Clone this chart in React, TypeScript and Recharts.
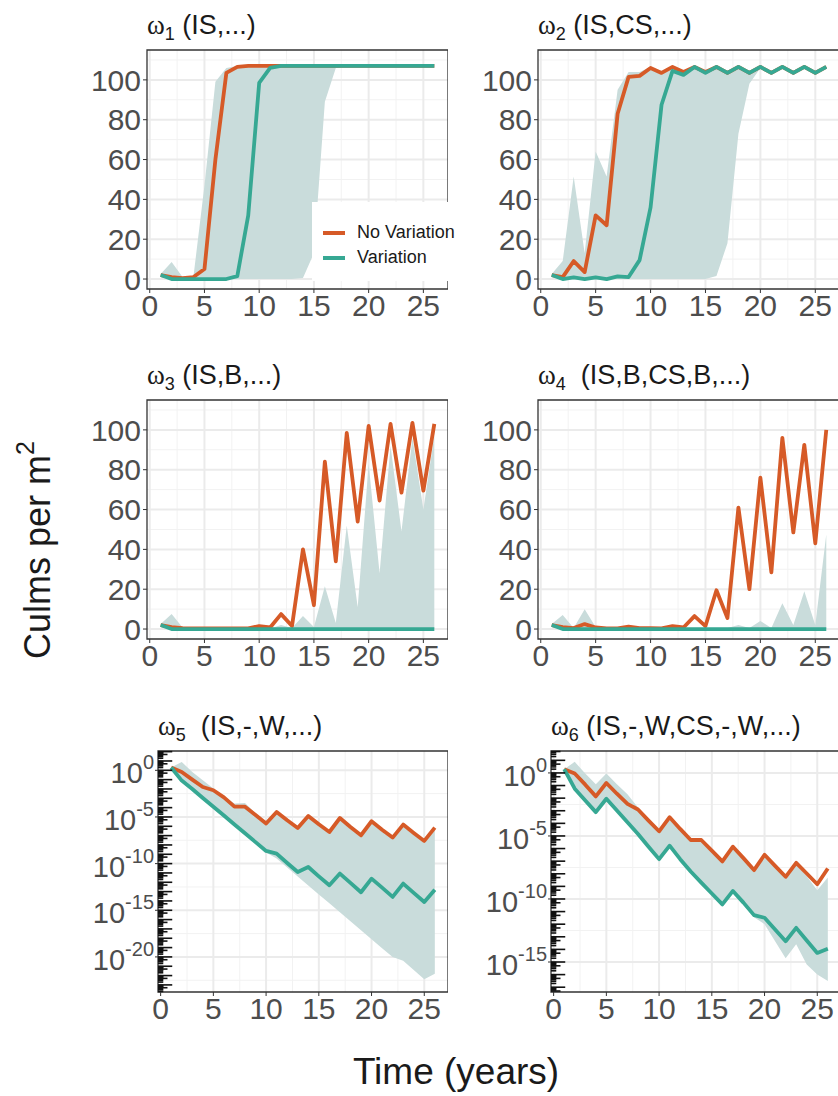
import React from "react";
import {
  Area,
  CartesianGrid,
  ComposedChart,
  Legend,
  Line,
  ReferenceArea,
  ReferenceLine,
  XAxis,
  YAxis
} from "recharts";

const years = [1, 2, 3, 4, 5, 6, 7, 8, 9, 10, 11, 12, 13, 14, 15, 16, 17, 18, 19, 20, 21, 22, 23, 24, 25, 26];
const xTicks = [0, 5, 10, 15, 20, 25];
const yTicksLinear = [0, 20, 40, 60, 80, 100];

// omega 1 (IS,...)
const noVar1 = [2, 1, 0.5, 1, 5, 60, 103.5, 106.5, 107, 107, 107, 107, 107, 107, 107, 107, 107, 107, 107, 107, 107, 107, 107, 107, 107, 107];
const var1 = [2, 0, 0, 0, 0, 0, 0, 1.5, 32, 98.5, 106, 107, 107, 107, 107, 107, 107, 107, 107, 107, 107, 107, 107, 107, 107, 107];
const low1 = [1.5, 0, 0, 0, 0, 0, 0, 0, 0, 0, 0, 0, 0, 0.5, 13, 89, 106, 107, 107, 107, 107, 107, 107, 107, 107, 107];
const high1 = [2.5, 8.5, 1, 1.5, 47, 99, 106, 107, 107, 107, 107, 107, 107, 107, 107, 107, 107, 107, 107, 107, 107, 107, 107, 107, 107, 107];

// omega 2 (IS,CS,...)
const noVar2 = [2, 1, 9, 3.5, 32, 27, 83, 101.5, 102, 106, 103.5, 106.5, 104, 106.5, 104, 106.5, 103.5, 106.5, 103.5, 106.5, 103.5, 106.5, 103.5, 106.5, 103.5, 106.5];
const var2 = [2, 0, 0.8, 0, 0.8, 0, 1.3, 1, 9.5, 36, 87.5, 104.5, 102.5, 106.5, 103.5, 106.5, 103.5, 106.5, 103.5, 106.5, 103.5, 106.5, 103.5, 106.5, 103.5, 106.5];
const low2 = [1.5, 0, 0, 0, 0, 0, 0, 0, 0, 0, 0, 0, 0, 0, 0, 1.5, 18, 73, 98, 106, 103, 106, 103, 106, 103, 106];
const high2 = [2.5, 9, 51.5, 13, 64, 51.5, 95, 104, 104, 106.5, 104.5, 106.5, 104.5, 107, 104.5, 107, 104.5, 107, 104.5, 107, 104, 107, 104, 107, 104, 107];

// omega 3 (IS,B,...)
const noVar3 = [2, 1, 0.5, 0.3, 0.3, 0.3, 0.3, 0.3, 0.3, 1.5, 0.8, 7.5, 1.5, 40, 12, 84, 34, 98.5, 54, 102, 64.5, 103, 68.5, 103.5, 69.5, 103];
const var3 = [2, 0, 0, 0, 0, 0, 0, 0, 0, 0, 0, 0, 0, 0, 0, 0, 0, 0, 0, 0, 0, 0, 0, 0, 0, 0];
const low3 = [1.5, 0, 0, 0, 0, 0, 0, 0, 0, 0, 0, 0, 0, 0, 0, 0, 0, 0, 0, 0, 0, 0, 0, 0, 0, 0];
const high3 = [2.5, 7.5, 0.8, 0.3, 0.3, 0.3, 0.3, 0.3, 0.3, 0.3, 0.3, 2, 0.5, 6.5, 1, 21.5, 3, 52, 11, 83, 28, 92, 49, 96, 60, 97];

// omega 4 (IS,B,CS,B,...)
const noVar4 = [2, 1, 0.5, 2.5, 0.8, 0.3, 0.3, 1.2, 0.5, 0.5, 0.3, 1.5, 0.8, 6.5, 1.5, 19.5, 5.5, 61, 20, 76, 28.5, 96, 48.5, 92.5, 43, 100];
const var4 = [2, 0, 0, 0, 0, 0, 0, 0, 0, 0, 0, 0, 0, 0, 0, 0, 0, 0, 0, 0, 0, 0, 0, 0, 0, 0];
const low4 = [1.5, 0, 0, 0, 0, 0, 0, 0, 0, 0, 0, 0, 0, 0, 0, 0, 0, 0, 0, 0, 0, 0, 0, 0, 0, 0];
const high4 = [2.5, 7, 0.5, 10, 1, 0.3, 0.3, 0.3, 0.3, 0.3, 0.3, 0.3, 0.3, 0.3, 0.3, 0.3, 0.5, 2, 0.5, 4, 0.5, 13, 2, 19, 2, 47.5];

// omega 5 (IS,-,W,...), log10 of culms per m2
const noVar5 = [0.3, -0.18, -1.0, -1.79, -2.14, -2.9, -3.9, -3.9, -4.8, -5.7, -4.46, -5.36, -6.18, -4.89, -5.79, -6.61, -5.11, -6.07, -6.96, -5.46, -6.36, -7.21, -5.82, -6.71, -7.57, -6.14];
const var5 = [0.3, -1.1, -2.0, -2.96, -3.9, -4.85, -5.8, -6.75, -7.7, -8.64, -8.93, -9.93, -10.9, -10.36, -11.36, -12.32, -11.07, -12.07, -13.07, -11.61, -12.57, -13.57, -12.14, -13.14, -14.11, -12.79];
const low5 = [0.3, -1.15, -2.05, -3.0, -3.95, -4.9, -5.85, -6.8, -7.75, -8.8, -9.46, -10.42, -11.38, -12.34, -13.3, -14.26, -15.22, -16.18, -17.14, -18.1, -19.06, -20.0, -20.4, -21.4, -22.4, -21.8];
const high5 = [0.3, 0.9, -0.18, -1.07, -1.96, -2.79, -3.57, -3.5, -4.6, -5.85, -4.6, -5.5, -6.35, -5.05, -5.95, -6.8, -5.3, -6.25, -7.15, -5.65, -6.55, -7.4, -6.0, -6.9, -7.8, -6.35];

// omega 6 (IS,-,W,CS,-,W,...), log10 of culms per m2
const noVar6 = [0.3, -0.05, -0.93, -1.86, -0.8, -1.65, -2.45, -2.9, -3.78, -4.63, -3.51, -4.44, -5.32, -5.32, -6.17, -7.02, -5.85, -6.76, -7.71, -6.49, -7.37, -8.24, -7.13, -7.98, -8.83, -7.58];
const var6 = [0.3, -1.25, -2.18, -3.11, -2.05, -2.98, -3.91, -4.84, -5.85, -6.84, -5.77, -6.84, -7.82, -8.7, -9.57, -10.43, -9.36, -10.29, -11.28, -11.49, -12.42, -13.35, -12.29, -13.3, -14.28, -13.94];
const low6 = [0.3, -1.3, -2.3, -3.2, -2.15, -3.1, -4.0, -4.95, -5.95, -6.95, -5.9, -6.95, -7.95, -8.85, -9.7, -10.55, -9.5, -10.45, -11.45, -12.0, -13.35, -14.7, -13.6, -15.2, -16.0, -16.5];
const high6 = [0.3, 0.88, -0.05, -0.9, -0.05, -0.9, -1.7, -2.75, -3.65, -4.5, -3.4, -4.3, -5.2, -5.2, -6.05, -6.9, -5.75, -6.65, -7.6, -6.4, -7.3, -8.35, -7.3, -8.2, -9.3, -8.3];

const ORANGE = "#D65A27";
const TEAL = "#36A893";
const RIBBON = "#C9DCDB";
const FONT = "'Liberation Sans', Arial, Helvetica, sans-serif";
const SERIF = "'Liberation Serif', 'DejaVu Serif', serif";

const X_DOMAIN = [-0.25, 27.25];

type PanelProps = {
  sub: string;
  rest: string;
  noVar: number[];
  variation: number[];
  low: number[];
  high: number[];
  left: number;
  top: number;
  yAxisWidth: number;
  plotWidth: number;
  plotHeight: number;
  logRange?: [number, number];
  logTicks?: number[];
  showLegend?: boolean;
};

function PowerTick(props: any) {
  const { x, y, payload } = props;
  const exp = Math.round(Math.log10(payload.value));
  return (
    <text x={x} y={y} textAnchor="end" fill="#4D4D4D" fontFamily={FONT}>
      <tspan dy={13} fontSize={29}>10</tspan>
      <tspan dy={-14} fontSize={20}>{exp}</tspan>
    </text>
  );
}

function LegendBox(props: any) {
  const items = (props.payload || []).filter((p: any) => p.type !== "none");
  return (
    <div style={{ padding: "18px 0 0 11px", fontFamily: FONT, fontSize: 18, color: "#1A1A1A" }}>
      {items.map((p: any) => (
        <div key={p.value} style={{ display: "flex", alignItems: "center", height: 25 }}>
          <span style={{ width: 22, height: 4, background: p.color, marginRight: 12, display: "inline-block" }} />
          <span>{p.value}</span>
        </div>
      ))}
    </div>
  );
}

// annotation_logticks style marks along the left border
function logMarks(lo: number, hi: number) {
  const out: { v: number; len: number }[] = [];
  for (let n = Math.floor(lo); n <= Math.ceil(hi); n++) {
    for (let k = 1; k <= 9; k++) {
      const e = n + Math.log10(k);
      if (e < lo || e > hi) continue;
      out.push({ v: k * 10 ** n, len: k === 1 ? 1.35 : k === 5 ? 0.9 : 0.5 });
    }
  }
  return out;
}

function Panel(p: PanelProps) {
  const isLog = !!p.logRange;
  const conv = (v: number) => (isLog ? 10 ** v : v);
  const data = years.map((t, i) => ({
    t,
    noVar: conv(p.noVar[i]),
    variation: conv(p.variation[i]),
    band: [conv(p.low[i]), conv(p.high[i])]
  }));
  const yDomain = isLog ? [10 ** p.logRange![0], 10 ** p.logRange![1]] : [-5, 115];
  const majorY = isLog ? p.logTicks! : yTicksLinear;
  const minorY = isLog
    ? [-2.5, -7.5, -12.5, -17.5, -22.5].filter((e) => e > p.logRange![0]).map((e) => 10 ** e)
    : [10, 30, 50, 70, 90, 110];
  const marks = isLog ? logMarks(p.logRange![0], p.logRange![1]) : [];

  return (
    <div style={{ position: "absolute", left: p.left, top: p.top }}>
      <div
        style={{
          position: "absolute",
          left: p.yAxisWidth,
          top: -33,
          whiteSpace: "pre",
          fontFamily: FONT,
          fontSize: 27,
          lineHeight: "36px",
          color: "#1A1A1A"
        }}
      >
        <span style={{ fontFamily: SERIF }}>ω</span>
        <span style={{ fontSize: 18, position: "relative", top: 6 }}>{p.sub}</span>
        {p.rest}
      </div>
      <ComposedChart
        width={p.yAxisWidth + p.plotWidth}
        height={10 + p.plotHeight + 40}
        data={data}
        margin={{ top: 10, right: 0, bottom: 0, left: 0 }}
      >
        <CartesianGrid
          stroke="#F2F2F2"
          strokeWidth={1}
          horizontalValues={minorY}
          verticalValues={[2.5, 7.5, 12.5, 17.5, 22.5]}
        />
        <CartesianGrid stroke="#EBEBEB" strokeWidth={2} horizontalValues={majorY} verticalValues={xTicks} />
        <XAxis
          dataKey="t"
          type="number"
          domain={X_DOMAIN}
          ticks={xTicks}
          allowDataOverflow
          axisLine={false}
          tickLine={{ stroke: "#333333" }}
          tickSize={4}
          tickMargin={2}
          height={40}
          tick={{ fontSize: 30, fill: "#4D4D4D", fontFamily: FONT }}
        />
        {isLog ? (
          <YAxis
            type="number"
            scale="log"
            domain={yDomain}
            ticks={p.logTicks}
            allowDataOverflow
            axisLine={false}
            tickLine={{ stroke: "#333333" }}
            tickSize={3}
            tickMargin={1}
            width={p.yAxisWidth}
            tick={(tp: any) => <PowerTick {...tp} />}
          />
        ) : (
          <YAxis
            type="number"
            domain={yDomain}
            ticks={yTicksLinear}
            allowDataOverflow
            axisLine={false}
            tickLine={{ stroke: "#333333" }}
            tickSize={4}
            tickMargin={2}
            width={p.yAxisWidth}
            tick={{ fontSize: 30, fill: "#4D4D4D", fontFamily: FONT }}
          />
        )}
        <Area
          dataKey="band"
          stroke="none"
          fill={RIBBON}
          fillOpacity={1}
          legendType="none"
          isAnimationActive={false}
          activeDot={false}
        />
        <Line
          dataKey="noVar"
          name="No Variation"
          stroke={ORANGE}
          strokeWidth={3.8}
          dot={false}
          activeDot={false}
          strokeLinejoin="round"
          isAnimationActive={false}
        />
        <Line
          dataKey="variation"
          name="Variation"
          stroke={TEAL}
          strokeWidth={3.8}
          dot={false}
          activeDot={false}
          strokeLinejoin="round"
          isAnimationActive={false}
        />
        {marks.map((m) => (
          <ReferenceLine
            key={m.v}
            segment={[
              { x: X_DOMAIN[0], y: m.v },
              { x: X_DOMAIN[0] + m.len, y: m.v }
            ]}
            stroke="#111111"
            strokeWidth={1.6}
            ifOverflow="visible"
          />
        ))}
        <ReferenceArea
          x1={X_DOMAIN[0]}
          x2={X_DOMAIN[1]}
          y1={yDomain[0]}
          y2={yDomain[1]}
          fill="none"
          stroke="#333333"
          strokeWidth={1.3}
          ifOverflow="visible"
        />
        {p.showLegend && (
          <Legend
            layout="vertical"
            align="center"
            verticalAlign="middle"
            content={<LegendBox />}
            wrapperStyle={{ left: 232, top: 162, width: 150, height: 79, background: "#FFFFFF" }}
          />
        )}
      </ComposedChart>
    </div>
  );
}

export default function App() {
  return (
    <div
      style={{
        position: "absolute",
        left: 0,
        top: 0,
        width: 838,
        height: 1096,
        overflow: "hidden",
        background: "#FFFFFF"
      }}
    >
      <Panel sub="1" rest=" (IS,...)" noVar={noVar1} variation={var1} low={low1} high={high1}
        left={80} top={40} yAxisWidth={67} plotWidth={301} plotHeight={239} showLegend />
      <Panel sub="2" rest=" (IS,CS,...)" noVar={noVar2} variation={var2} low={low2} high={high2}
        left={470} top={40} yAxisWidth={68} plotWidth={302} plotHeight={239} />
      <Panel sub="3" rest=" (IS,B,...)" noVar={noVar3} variation={var3} low={low3} high={high3}
        left={80} top={390} yAxisWidth={67} plotWidth={301} plotHeight={239} />
      <Panel sub="4" rest="  (IS,B,CS,B,...)" noVar={noVar4} variation={var4} low={low4} high={high4}
        left={470} top={390} yAxisWidth={68} plotWidth={302} plotHeight={239} />
      <Panel sub="5" rest="  (IS,-,W,...)" noVar={noVar5} variation={var5} low={low5} high={high5}
        left={80} top={741} yAxisWidth={78} plotWidth={290} plotHeight={241}
        logRange={[-23.76, 2.07]} logTicks={[1e-20, 1e-15, 1e-10, 1e-5, 1]} />
      <Panel sub="6" rest=" (IS,-,W,CS,-,W,...)" noVar={noVar6} variation={var6} low={low6} high={high6}
        left={470} top={741} yAxisWidth={81} plotWidth={290} plotHeight={241}
        logRange={[-17.38, 1.74]} logTicks={[1e-15, 1e-10, 1e-5, 1]} />
      <div
        style={{
          position: "absolute",
          left: 38 - 160,
          top: 550 - 21,
          width: 320,
          height: 42,
          lineHeight: "42px",
          textAlign: "center",
          transform: "rotate(-90deg)",
          fontFamily: FONT,
          fontSize: 36,
          color: "#1A1A1A",
          whiteSpace: "nowrap"
        }}
      >
        Culms per m<span style={{ fontSize: 25, position: "relative", top: -16 }}>2</span>
      </div>
      <div
        style={{
          position: "absolute",
          left: 256,
          top: 1050,
          width: 400,
          lineHeight: "44px",
          textAlign: "center",
          fontFamily: FONT,
          fontSize: 37,
          color: "#1A1A1A"
        }}
      >
        Time (years)
      </div>
    </div>
  );
}
